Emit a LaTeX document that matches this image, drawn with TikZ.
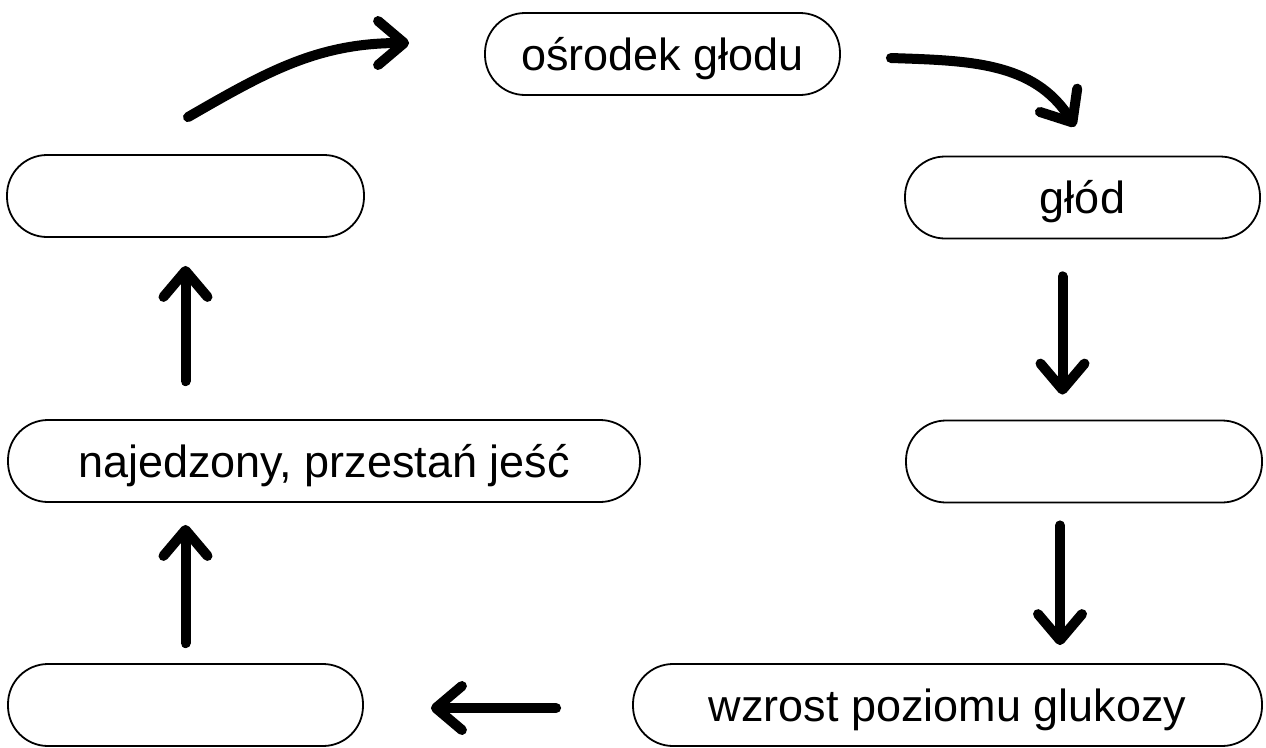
\documentclass[tikz,border=0pt]{standalone}
\usepackage{fontspec}
\setmainfont{Liberation Sans}
\usetikzlibrary{arrows.meta}
\begin{document}
\begin{tikzpicture}[x=1pt,y=1pt,
  box/.style={draw, line width=1.8pt, rounded corners=40pt, minimum height=82pt,
    inner sep=0pt, text height=36pt, text depth=4pt, font=\fontsize{45}{54}\selectfont},
  arr/.style={line width=10pt, line cap=round,
    -{Straight Barb[length=26pt,width=44pt,round]}}]
\useasboundingbox (0,0) rectangle (1266,-747);
\node[box, minimum width=355pt] (A) at (662.5,-54) {ośrodek głodu};
\node[box, minimum width=355pt] (B) at (1082.5,-197.5) {głód};
\node[box, minimum width=356pt] (C) at (1084,-461.5) {};
\node[box, minimum width=629pt] (D) at (947.5,-705) {wzrost poziomu glukozy};
\node[box, minimum width=355pt] (E) at (185.5,-705) {};
\node[box, minimum width=632pt] (F) at (324,-461) {najedzony, przestań jeść};
\node[box, minimum width=357pt] (G) at (185.5,-196) {};
% curved arrows
\coordinate (s1) at ([xshift=2.5pt,yshift=37pt]G.north);
\coordinate (t1) at ([xshift=-75pt,yshift=11pt]A.west);
\draw[arr] (s1) to[out=30,in=180] (t1);
\coordinate (s2) at ([xshift=50pt,yshift=-4pt]A.east);
\coordinate (t2) at ([xshift=-7.5pt,yshift=29pt]B.north);
\draw[arr] (s2) to[out=-2,in=122] (t2);
% straight arrows
\coordinate (b1) at ([xshift=-20pt]B.south);
\draw[arr, shorten <=37pt, shorten >=25pt] (b1) -- (b1 |- C.north);
\coordinate (c1) at ([xshift=-24pt]C.south);
\draw[arr, shorten <=22pt, shorten >=18pt] (c1) -- (c1 |- D.north);
\draw[arr, shorten <=76pt, shorten >=67pt] ([yshift=-3pt]D.west) -- ([yshift=-3pt]E.east);
\draw[arr, shorten <=20pt, shorten >=22pt] (E.north) -- (E.north |- F.south);
\draw[arr, shorten <=38pt, shorten >=28pt] (G.south |- F.north) -- (G.south);
\end{tikzpicture}
\end{document}
